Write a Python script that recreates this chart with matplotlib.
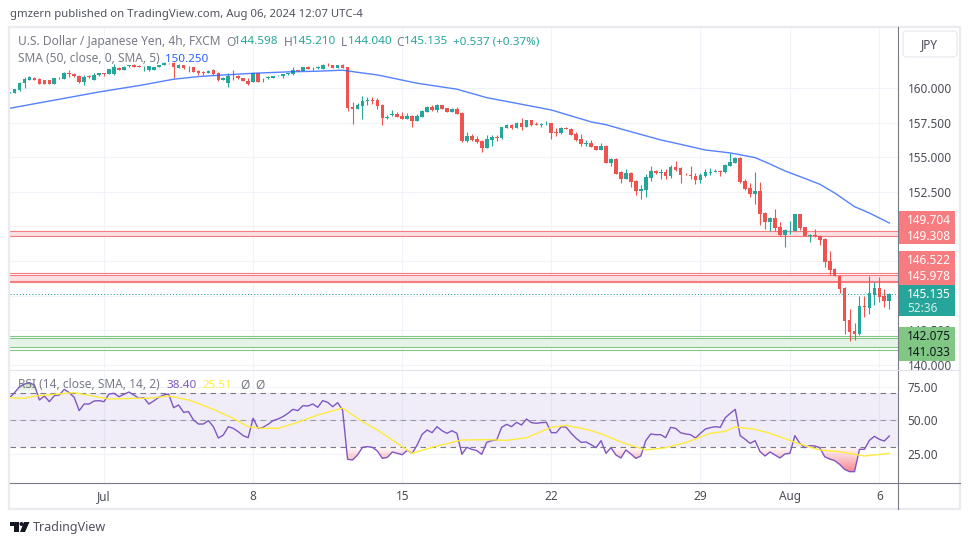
import matplotlib
matplotlib.use("Agg")
import matplotlib.pyplot as plt
import numpy as np
from matplotlib.patches import Rectangle, FancyBboxPatch, Polygon, Circle
from matplotlib.path import Path

plt.rcParams['font.family'] = ['Noto Sans', 'DejaVu Sans']

# USD/JPY 4h candles
opens = [159.66, 159.64, 159.86, 160.34, 160.58, 160.75, 160.65, 160.55, 160.55, 160.31,
         160.70, 160.67, 161.06, 161.01, 160.87, 160.41, 160.87, 160.58, 160.91, 161.06,
         160.99, 160.99, 161.47, 161.30, 161.56, 161.66, 161.61, 161.56, 161.30, 161.32,
         161.54, 161.69, 161.76, 161.83, 161.47, 161.66, 161.52, 161.49, 161.25, 161.13,
         161.11, 161.28, 161.11, 160.58, 160.34, 160.89, 160.87, 160.72, 160.53, 160.46,
         161.06, 160.70, 160.75, 160.75, 160.87, 160.84, 160.99, 161.01, 161.30, 161.23,
         161.54, 161.42, 161.44, 161.37, 161.69, 161.66, 161.47, 161.66, 161.49, 158.63,
         158.48, 158.70, 159.06, 159.13, 159.13, 158.77, 157.86, 158.07, 158.12, 157.98,
         157.79, 157.98, 157.64, 157.93, 158.29, 158.63, 158.43, 158.75, 158.53, 158.29,
         158.46, 158.19, 156.17, 156.53, 156.32, 156.15, 155.69, 156.27, 156.46, 156.41,
         157.14, 157.33, 157.14, 157.45, 157.18, 157.69, 157.40, 157.33, 157.45, 157.45,
         156.82, 156.75, 157.14, 157.04, 156.68, 156.32, 155.96, 156.03, 155.79, 155.52,
         155.81, 154.58, 154.90, 153.93, 153.43, 153.89, 153.28, 152.59, 152.63, 153.50,
         154.00, 153.89, 153.93, 153.65, 154.27, 154.22, 153.81, 153.72, 153.65, 153.36,
         153.65, 153.86, 153.96, 154.03, 153.91, 154.39, 154.58, 154.95, 153.28, 152.78,
         152.35, 152.56, 150.97, 150.32, 150.61, 149.96, 149.39, 149.67, 149.67, 150.90,
         149.96, 149.34, 149.39, 149.31, 149.10, 147.51, 146.93, 146.43, 145.56, 143.25,
         142.45, 142.24, 144.28, 144.11, 145.05, 145.56, 144.98, 144.598]
highs = [159.71, 159.90, 160.41, 160.77, 160.84, 160.82, 160.70, 160.58, 160.58, 160.72,
         160.77, 161.16, 161.30, 161.06, 160.94, 160.91, 160.94, 161.11, 161.11, 161.06,
         161.40, 161.73, 161.49, 161.59, 161.69, 161.71, 161.66, 161.59, 161.61, 161.54,
         161.69, 161.90, 161.81, 161.88, 161.71, 161.69, 161.56, 161.52, 161.30, 161.20,
         161.28, 161.35, 161.16, 160.77, 161.11, 161.30, 160.91, 160.75, 160.70, 161.06,
         161.06, 160.75, 160.87, 160.89, 160.91, 161.01, 161.08, 161.52, 161.32, 161.54,
         161.61, 161.49, 161.59, 161.73, 161.81, 161.69, 161.69, 161.73, 161.54, 158.99,
         158.94, 159.42, 159.35, 159.35, 159.25, 158.82, 158.05, 158.39, 158.27, 158.27,
         158.17, 158.05, 158.10, 158.41, 158.70, 158.75, 158.84, 158.77, 158.55, 158.53,
         158.60, 158.27, 156.82, 156.68, 156.53, 156.25, 156.61, 156.61, 156.61, 157.18,
         157.40, 157.40, 157.54, 157.83, 157.71, 157.71, 157.54, 157.50, 157.62, 157.47,
         157.11, 157.21, 157.21, 157.11, 156.82, 156.68, 156.25, 156.25, 155.81, 156.03,
         155.86, 154.97, 154.94, 154.03, 154.15, 153.93, 153.33, 152.99, 153.81, 154.37,
         154.08, 154.15, 154.15, 154.44, 154.70, 154.27, 153.86, 154.37, 153.84, 153.89,
         154.13, 154.20, 154.13, 154.10, 154.49, 155.33, 155.02, 154.99, 153.43, 153.14,
         153.93, 153.21, 151.02, 150.68, 151.26, 150.32, 149.82, 150.40, 150.90, 150.90,
         149.98, 149.48, 149.82, 149.39, 149.14, 148.23, 147.00, 146.50, 145.63, 144.04,
         143.03, 144.98, 144.98, 146.43, 145.99, 146.35, 145.49, 145.21]
lows = [159.66, 159.64, 159.81, 160.02, 160.58, 160.55, 160.29, 160.29, 160.29, 160.29,
        160.65, 160.67, 160.82, 160.82, 160.34, 160.22, 160.70, 160.58, 160.87, 160.89,
        160.99, 160.94, 161.30, 161.30, 161.54, 161.52, 161.49, 161.25, 161.25, 161.30,
        161.52, 161.66, 161.71, 160.75, 161.44, 161.40, 161.18, 161.16, 160.94, 160.94,
        161.08, 160.91, 160.51, 160.55, 160.05, 160.58, 160.65, 160.49, 160.22, 160.46,
        160.46, 160.46, 160.63, 160.72, 160.84, 160.72, 160.96, 160.94, 161.20, 161.20,
        161.37, 161.30, 161.40, 161.37, 161.59, 161.44, 161.47, 161.47, 158.36, 157.42,
        158.48, 157.79, 158.80, 158.87, 158.48, 157.33, 157.76, 157.98, 157.91, 157.74,
        157.74, 157.21, 157.62, 157.93, 158.29, 158.32, 158.29, 158.48, 158.29, 158.27,
        158.15, 156.12, 156.12, 156.20, 156.03, 155.38, 155.67, 155.81, 156.20, 156.32,
        157.14, 157.04, 157.11, 156.97, 157.18, 157.26, 157.30, 157.18, 157.33, 156.32,
        156.53, 156.70, 157.04, 156.61, 156.20, 155.81, 155.81, 155.74, 155.52, 155.52,
        154.61, 154.37, 153.81, 153.16, 153.40, 152.87, 152.30, 151.98, 152.10, 153.31,
        153.79, 153.45, 153.45, 153.50, 153.98, 153.14, 153.72, 153.45, 153.07, 153.14,
        153.60, 153.72, 153.93, 153.65, 153.86, 154.37, 154.58, 153.14, 152.63, 152.13,
        151.62, 150.11, 149.82, 149.67, 149.70, 149.31, 148.52, 149.46, 149.67, 149.75,
        149.31, 148.88, 149.24, 148.66, 147.07, 146.50, 146.40, 145.20, 142.24, 141.73,
        141.80, 142.16, 143.46, 143.68, 144.33, 144.55, 144.16, 144.04]
closes = [159.71, 159.90, 160.34, 160.65, 160.77, 160.58, 160.31, 160.31, 160.31, 160.70,
          160.75, 161.08, 160.99, 160.84, 160.43, 160.82, 160.82, 160.94, 161.06, 160.99,
          161.37, 161.54, 161.32, 161.54, 161.64, 161.54, 161.52, 161.59, 161.59, 161.54,
          161.69, 161.83, 161.73, 161.49, 161.66, 161.42, 161.54, 161.18, 161.06, 161.08,
          161.25, 161.01, 160.58, 160.75, 160.89, 160.87, 160.70, 160.53, 160.26, 161.06,
          160.46, 160.75, 160.79, 160.87, 160.89, 160.99, 161.06, 161.30, 161.23, 161.49,
          161.40, 161.47, 161.54, 161.69, 161.64, 161.47, 161.66, 161.47, 158.58, 158.51,
          158.77, 159.06, 159.13, 159.09, 158.72, 157.86, 157.93, 158.15, 157.93, 157.79,
          158.00, 157.64, 157.98, 158.34, 158.63, 158.41, 158.77, 158.48, 158.29, 158.46,
          158.15, 156.17, 156.51, 156.25, 156.10, 155.69, 156.32, 156.46, 156.41, 157.16,
          157.33, 157.11, 157.47, 157.16, 157.69, 157.30, 157.35, 157.38, 157.50, 156.75,
          156.77, 157.14, 157.06, 156.63, 156.25, 155.96, 156.00, 155.76, 155.52, 155.81,
          154.61, 154.87, 153.81, 153.43, 153.86, 153.24, 152.59, 152.71, 153.57, 154.00,
          153.84, 153.93, 153.65, 154.30, 154.08, 153.72, 153.77, 153.65, 153.36, 153.72,
          153.96, 153.93, 154.03, 153.96, 154.44, 154.66, 154.97, 153.21, 152.71, 152.35,
          152.56, 150.90, 150.32, 150.64, 149.89, 149.39, 149.75, 149.70, 150.90, 149.89,
          149.31, 149.39, 149.29, 149.02, 147.44, 146.86, 146.43, 145.49, 143.17, 142.38,
          142.24, 144.26, 144.21, 145.17, 145.56, 144.91, 144.62, 145.135]

sma_bars = [0, 18, 26, 33, 38, 41, 49, 56, 62, 64, 67, 70, 74, 82, 90, 96, 109, 117, 120, 123,
            131, 136, 140, 145, 150, 153, 156, 160, 163, 166, 170, 173, 175, 177]
sma_vals = [158.53, 159.71, 160.17, 160.63, 160.82, 160.89, 161.06, 161.16, 161.21, 161.24,
            161.28, 161.13, 160.94, 160.34, 159.91, 159.30, 158.41, 157.55, 157.35, 157.04,
            156.25, 155.85, 155.52, 155.31, 154.97, 154.51, 154.01, 153.47, 153.05, 152.42,
            151.43, 150.97, 150.61, 150.25]

rsi = [66.77, 70.47, 74.91, 76.89, 77.88, 76.15, 65.04, 68.0, 63.8, 68.25,
       68.74, 72.94, 70.47, 67.0, 57.14, 62.08, 62.08, 64.3, 64.55, 63.8,
       69.48, 69.98, 67.5, 69.24, 70.96, 68.74, 66.27, 66.77, 62.08, 64.3,
       67.0, 68.74, 69.48, 59.36, 61.34, 55.9, 56.4, 50.2, 47.26, 47.26,
       49.73, 45.29, 36.89, 39.11, 45.29, 44.05, 41.58, 38.62, 37.14, 51.46,
       44.05, 44.79, 47.01, 49.73, 50.97, 52.7, 55.16, 58.13, 57.14, 60.84,
       60.59, 62.08, 59.61, 64.55, 63.31, 60.1, 63.06, 57.63, 21.09, 20.6,
       24.3, 29.98, 30.47, 29.98, 27.26, 21.83, 22.57, 26.52, 25.53, 24.55,
       27.76, 25.53, 31.71, 39.61, 42.82, 40.84, 45.29, 42.3, 40.35, 42.3,
       40.35, 24.79, 29.98, 28.5, 27.51, 24.79, 33.68, 34.92, 35.41, 44.79,
       47.0, 45.29, 48.5, 46.52, 50.97, 48.25, 47.76, 48.25, 48.5, 40.84,
       40.84, 45.29, 44.79, 40.35, 36.65, 33.68, 33.93, 31.95, 29.73, 34.92,
       25.53, 29.73, 24.3, 22.08, 28.0, 25.04, 21.83, 23.56, 34.92, 39.86,
       39.36, 39.36, 37.14, 44.79, 44.05, 40.84, 39.86, 39.36, 36.89, 40.35,
       43.56, 44.55, 45.29, 44.79, 51.95, 55.16, 58.13, 38.62, 35.91, 32.94,
       34.92, 26.77, 23.56, 26.52, 24.3, 22.08, 25.04, 25.53, 38.62, 32.94,
       29.73, 31.21, 30.97, 29.73, 23.07, 21.34, 20.1, 17.39, 13.68, 11.95,
       11.95, 28.5, 28.5, 35.17, 38.13, 35.91, 34.67, 38.4]

rsi_ma_bars = [0, 3, 5, 9, 13, 16, 20, 25, 28, 32, 36, 41, 45, 48, 51, 54, 58, 62, 67, 71,
               74, 81, 85, 89, 91, 96, 100, 104, 109, 112, 116, 119, 123, 128, 132, 136,
               141, 144, 146, 150, 153, 159, 163, 167, 172, 177]
rsi_ma_vals = [66.77, 66.27, 68.0, 69.24, 70.47, 68.5, 65.78, 66.27, 66.27, 68.0, 65.04,
               58.13, 51.46, 45.29, 44.05, 44.05, 48.5, 53.93, 59.11, 49.0, 42.82, 25.53,
               30.0, 33.68, 35.41, 35.66, 35.17, 37.14, 44.79, 46.27, 43.31, 40.1, 33.93,
               28.0, 29.73, 33.44, 40.35, 41.83, 45.04, 43.31, 40.35, 32.45, 28.0, 26.77,
               23.56, 25.51]

price_ticks = [160, 157.5, 155, 152.5, 150, 147.5, 145, 142.5, 140]
price_labels = ['160.000', '157.500', '155.000', '152.500', '', '', '', '142.500', '140.000']
rsi_ticks = [75, 50, 25]
rsi_labels = ['75.00', '50.00', '25.00']
date_bars = [19, 49, 79, 109, 139, 157, 175]
date_labels = ['Jul', '8', '15', '22', '29', 'Aug', '6']

red_levels = [149.704, 149.308, 146.65, 146.522, 146.05, 145.978]
green_levels = [142.12, 141.93, 141.28, 141.07]
last_price = 145.135

GREEN = '#26a69a'
RED = '#ef5350'
GRID = '#f0f3fa'
GRAY = '#787b86'
W, H = 970, 545


def box(left, top, right, bottom):
    return [left / W, 1 - bottom / H, (right - left) / W, (bottom - top) / H]


fig = plt.figure(figsize=(9.7, 5.45), dpi=100)
ax = fig.add_axes(box(10, 27, 898, 369))
ax2 = fig.add_axes(box(10, 370, 898, 483))

bars = np.arange(len(closes))
xlim = (0.08, 178.75)

# price pane
ax.set_xlim(xlim)
ax.set_ylim(139.71, 164.40)
ax.grid(True, color=GRID, linewidth=0.8)
ax.set_axisbelow(True)
ax.set_xticks(date_bars)
ax.tick_params(axis='x', length=0, labelbottom=False)
ax.yaxis.tick_right()
ax.set_yticks(price_ticks)
ax.set_yticklabels(price_labels, fontsize=8.5, color='#4a4d57')
ax.tick_params(axis='y', length=0, pad=7)

ax.axhspan(red_levels[1], red_levels[0], color='#fde0e1', linewidth=0, zorder=1)
ax.axhspan(red_levels[4], red_levels[3], color='#fde0e1', linewidth=0, zorder=1)
ax.axhspan(green_levels[2], green_levels[1], color='#e6f4e7', linewidth=0, zorder=1)
for level in red_levels:
    ax.axhline(level, color='#f77c80', linewidth=0.8, zorder=2)
for level in green_levels:
    ax.axhline(level, color='#81c784', linewidth=0.8, zorder=2)

colors = [GREEN if c >= o else RED for o, c in zip(opens, closes)]
ax.vlines(bars, lows, highs, colors=colors, linewidth=0.8, zorder=3)
body_low = np.minimum(opens, closes)
body_high = np.maximum(opens, closes)
ax.bar(bars, body_high - body_low, bottom=body_low, width=0.74, color=colors, linewidth=0, zorder=3)

ax.plot(sma_bars, sma_vals, color='#2962ff', linewidth=1, alpha=0.8, zorder=4)
ax.axhline(last_price, color=GREEN, linewidth=0.75, linestyle=(0, (1, 2)), zorder=2)

# rsi pane
ax2.set_xlim(xlim)
ax2.set_ylim(3.56, 87.26)
ax2.grid(True, color=GRID, linewidth=0.8)
ax2.set_axisbelow(True)
ax2.yaxis.tick_right()
ax2.set_yticks(rsi_ticks)
ax2.set_yticklabels(rsi_labels, fontsize=8.5, color='#4a4d57')
ax2.tick_params(axis='y', length=0, pad=7)
ax2.set_xticks(date_bars)
ax2.set_xticklabels(date_labels, fontsize=8.5, color='#4a4d57')
ax2.tick_params(axis='x', length=0, pad=5)

ax2.axhspan(30, 70, color='#7e57c2', alpha=0.1, linewidth=0, zorder=1)
for level in [70, 30]:
    ax2.axhline(level, color=GRAY, linewidth=0.8, linestyle=(0, (5, 4)), zorder=2)
ax2.axhline(50, color=GRAY, linewidth=0.8, alpha=0.7, linestyle=(0, (5, 4)), zorder=2)

rsi_arr = np.array(rsi)
low_fill = ax2.fill_between(bars, rsi_arr, 30, where=rsi_arr < 30, interpolate=True,
                            facecolor='none', linewidth=0)
high_fill = ax2.fill_between(bars, rsi_arr, 70, where=rsi_arr > 70, interpolate=True,
                             facecolor='none', linewidth=0)

red_grad = np.ones((64, 1, 4))
red_grad[:, 0, :3] = matplotlib.colors.to_rgb('#f23645')
red_grad[:, 0, 3] = np.linspace(0.65, 0.0, 64)
img = ax2.imshow(red_grad, extent=(xlim[0], xlim[1], 10, 30), origin='lower', aspect='auto', zorder=2)
img.set_clip_path(Path.make_compound_path(*low_fill.get_paths()), transform=ax2.transData)
green_grad = np.ones((64, 1, 4))
green_grad[:, 0, :3] = matplotlib.colors.to_rgb('#4caf50')
green_grad[:, 0, 3] = np.linspace(0.0, 0.5, 64)
img2 = ax2.imshow(green_grad, extent=(xlim[0], xlim[1], 70, 80), origin='lower', aspect='auto', zorder=2)
img2.set_clip_path(Path.make_compound_path(*high_fill.get_paths()), transform=ax2.transData)
ax2.set_xlim(xlim)
ax2.set_ylim(3.56, 87.26)

ax2.plot(bars, rsi, color='#7e57c2', linewidth=1, zorder=4)
ax2.plot(rsi_ma_bars, rsi_ma_vals, color='#ffeb3b', linewidth=1, zorder=4)

for a in (ax, ax2):
    for side in a.spines:
        a.spines[side].set_visible(False)

# overlay in pixel coordinates for legends, frame and price tags
ov = fig.add_axes([0, 0, 1, 1], zorder=10)
ov.set_xlim(0, W)
ov.set_ylim(H, 0)
ov.axis('off')

ov.add_patch(Rectangle((9.5, 27), 950.5, 482, fill=False, edgecolor='#e9ebf1', linewidth=1.6))
ov.plot([898.5, 898.5], [27, 509], color='#787b86', linewidth=0.8)
ov.plot([10, 960], [483, 483], color='#787b86', linewidth=0.8)
ov.plot([10, 960], [369.5, 369.5], color='#e0e3eb', linewidth=0.8)

ov.add_patch(FancyBboxPatch((905, 33), 50, 22, boxstyle='round,pad=2,rounding_size=4',
                            facecolor='white', edgecolor='#e9ebf1', linewidth=1))
ov.text(921, 45, 'JPY', fontsize=8.5, color='#4a4d57', va='center', ha='left')


def label(x, y, s, color=GRAY, size=8.6, **kw):
    ov.text(x, y, s, fontsize=size, color=color, va='center', ha='left', **kw)


label(10, 15, 'gmzern published on TradingView.com, Aug 06, 2024 12:07 UTC-4', color='#50535e', size=8.2)
label(18, 42, 'U.S. Dollar / Japanese Yen, 4h, FXCM')
label(226, 42, 'O')
label(234, 42, '144.598', color=GREEN, size=8.4)
label(284, 42, 'H')
label(292, 42, '145.210', color=GREEN, size=8.4)
label(341, 42, 'L')
label(348, 42, '144.040', color=GREEN, size=8.4)
label(396, 42, 'C')
label(404, 42, '145.135', color=GREEN, size=8.4)
label(453, 42, '+0.537 (+0.37%)', color=GREEN, size=8.4)
label(18, 59, 'SMA (50, close, 0, SMA, 5)')
label(165, 59, '150.250', color='#2962ff', size=8.4)
label(18, 385, 'RSI (14, close, SMA, 14, 2)')
label(166, 385, '38.40', color='#7e57c2', size=8.4)
label(203, 385, '25.51', color='#ffeb3b', size=8.4)
label(240, 385, 'Ø')
label(255, 385, 'Ø')

ov.add_patch(Rectangle((898.5, 211), 56.5, 33, facecolor='#f77c80', linewidth=0))
ov.add_patch(Rectangle((898.5, 251), 56.5, 34, facecolor='#f77c80', linewidth=0))
ov.add_patch(Rectangle((898.5, 285), 56.5, 31, facecolor=GREEN, linewidth=0))
ov.add_patch(Rectangle((898.5, 327), 56.5, 34, facecolor='#81c784', linewidth=0))
for y, s, c in [(220, '149.704', 'white'), (236, '149.308', 'white'), (260, '146.522', 'white'),
                (277, '145.978', 'white'), (294, '145.135', 'white'), (308, '52:36', '#d4eeeb'),
                (336, '142.075', '#131722'), (352, '141.033', '#131722')]:
    label(907, y, s, color=c, size=8.5)

# logo
ov.add_patch(Polygon([(10, 522), (19, 522), (19, 532), (14, 532), (14, 526), (10, 526)], color='#131722', linewidth=0))
ov.add_patch(Circle((21.5, 524), 2, color='#131722', linewidth=0))
ov.add_patch(Polygon([(24, 522), (29.5, 522), (25, 532), (20, 532)], color='#131722', linewidth=0))
label(33, 527, 'TradingView', color='#50535e', size=9)

fig.savefig('out.png', dpi=100)
plt.close(fig)
